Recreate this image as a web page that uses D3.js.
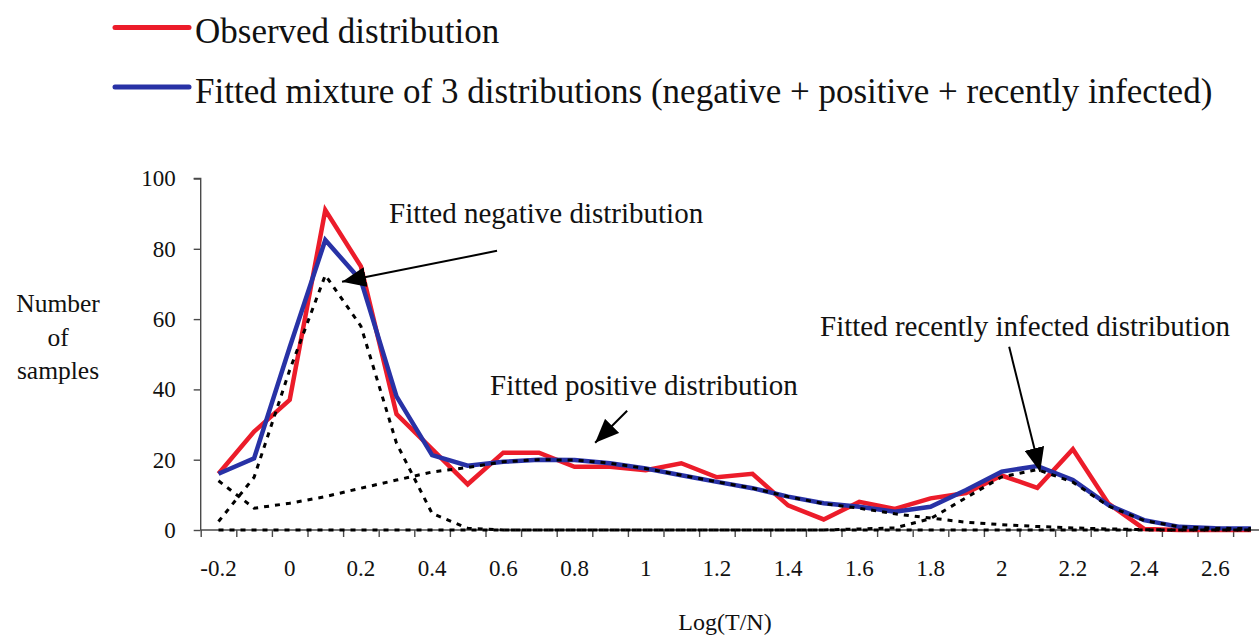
<!DOCTYPE html>
<html>
<head>
<meta charset="utf-8">
<script src="https://cdn.jsdelivr.net/npm/d3@7"></script>
<style>
  html, body { margin: 0; padding: 0; background: #fff; }
  svg { display: block; }
  text { font-family: "Liberation Serif", "Times New Roman", serif; fill: #111; }
</style>
</head>
<body>
<svg id="chart" width="1259" height="638"></svg>
<script>
// Log(T/N) classes, one every 0.1
const categories = ["-0.2","-0.1","0","0.1","0.2","0.3","0.4","0.5","0.6","0.7",
                    "0.8","0.9","1","1.1","1.2","1.3","1.4","1.5","1.6","1.7",
                    "1.8","1.9","2","2.1","2.2","2.3","2.4","2.5","2.6","2.7"];
// Labelled classes on the x axis
const xTickLabels = ["-0.2","0","0.2","0.4","0.6","0.8","1","1.2","1.4","1.6","1.8","2","2.2","2.4","2.6"];
const yTicks = [0, 20, 40, 60, 80, 100];

// Number of samples per class
const observed = [16, 28, 37, 91, 75, 33, 23, 13, 22, 22,
                  18, 18, 17, 19, 15, 16, 7, 3, 8, 6,
                  9, 10.5, 15.5, 12, 23, 7.5, 0.3, 0, 0, 0];
const fittedMixture = [16, 20.4, 52, 82.5, 71, 38, 21.3, 18.3, 19.4, 20,
                       19.9, 19, 17.5, 15.6, 13.7, 11.9, 9.5, 7.6, 6.6, 5.2,
                       6.6, 11.4, 16.6, 18.2, 14.2, 7.1, 2.8, 0.9, 0.5, 0.4];
const fittedNegative = [2.4, 15, 45.5, 72.5, 58, 24.7, 4.7, 0.5, 0, 0,
                        0, 0, 0, 0, 0, 0, 0, 0, 0, 0,
                        0, 0, 0, 0, 0, 0, 0, 0, 0, 0];
const fittedPositive = [14, 6.2, 7.6, 9.5, 11.9, 14.2, 16.5, 17.8, 19.4, 20,
                        19.9, 19, 17.5, 15.6, 13.7, 11.9, 9.5, 7.5, 6.2, 4.6,
                        3.4, 2.2, 1.5, 1.0, 0.6, 0.3, 0.1, 0, 0, 0];
const fittedRecent = [0, 0, 0, 0, 0, 0, 0, 0, 0, 0,
                      0, 0, 0, 0, 0, 0, 0, 0, 0.3, 0.6,
                      3.2, 9.2, 15.1, 17.2, 13.6, 6.8, 2.7, 0.9, 0.5, 0.4];

const svg = d3.select("#chart");
svg.append("rect").attr("width", 1259).attr("height", 638).attr("fill", "#fff");

const x0 = 200.7, step = 35.6;
const x = d3.scaleBand().domain(categories).range([x0, x0 + step * categories.length]).padding(0);
const xEdge = d3.scaleLinear().domain([0, categories.length]).range(x.range());
const y = d3.scaleLinear().domain([0, 100]).range([530, 178.5]);
const cx = c => x(c) + x.bandwidth() / 2;

const axisColor = "#4a4a4a";

// y axis
const yAxis = svg.append("g").attr("transform", `translate(${x0},0)`)
  .call(d3.axisLeft(y).tickValues(yTicks).tickSize(7).tickPadding(18).tickFormat(d3.format("d")));
yAxis.selectAll("path, line").attr("stroke", axisColor).attr("stroke-width", 1.4);
yAxis.select(".domain").attr("d", `M-7,${y(100)}H0V${y(0)}`);
yAxis.selectAll("text").attr("font-size", 23).attr("font-family", "Liberation Serif").attr("fill", "#111");

// x axis: tick marks between classes
const xTicks = svg.append("g").attr("transform", `translate(0,${y(0)})`)
  .call(d3.axisBottom(xEdge).tickValues(d3.range(0, categories.length + 1)).tickSize(7).tickFormat(""));
xTicks.selectAll("path, line").attr("stroke", axisColor).attr("stroke-width", 1.4);
xTicks.select(".domain").attr("d", `M${x0},0H${x.range()[1]}`);

// x axis: labels centred on classes
const xLabels = svg.append("g").attr("transform", `translate(0,${y(0)})`)
  .call(d3.axisBottom(x).tickValues(xTickLabels).tickSize(0).tickPadding(30));
xLabels.select(".domain").remove();
xLabels.selectAll("text").attr("font-size", 23).attr("font-family", "Liberation Serif").attr("fill", "#111");

// axis titles
svg.append("text").attr("x", 725).attr("y", 630).attr("text-anchor", "middle")
  .attr("font-size", 24).text("Log(T/N)");
const yTitle = svg.append("text").attr("text-anchor", "middle").attr("font-size", 25.5);
[["Number", 311.5], ["of", 345.5], ["samples", 378.5]].forEach(([t, by]) =>
  yTitle.append("tspan").attr("x", 58).attr("y", by).text(t));

// series
const line = vals => d3.line().x((d, i) => cx(categories[i])).y(d => y(d))(vals);

svg.append("path").attr("d", line(observed)).attr("fill", "none")
  .attr("stroke", "#ec1c2a").attr("stroke-width", 4.5).attr("stroke-linejoin", "miter");
svg.append("path").attr("d", line(fittedMixture)).attr("fill", "none")
  .attr("stroke", "#2832a6").attr("stroke-width", 4.5).attr("stroke-linejoin", "miter");
[fittedNegative, fittedPositive, fittedRecent].forEach(vals =>
  svg.append("path").attr("d", line(vals)).attr("fill", "none")
    .attr("stroke", "#000").attr("stroke-width", 3).attr("stroke-dasharray", "5,6"));

// legend
const legend = [
  { color: "#ec1c2a", label: "Observed distribution", ly: 27.5, ty: 43 },
  { color: "#2832a6", label: "Fitted mixture of 3 distributions (negative + positive + recently infected)", ly: 87, ty: 103 }
];
legend.forEach(l => {
  svg.append("line").attr("x1", 115).attr("x2", 189).attr("y1", l.ly).attr("y2", l.ly)
    .attr("stroke", l.color).attr("stroke-width", 5).attr("stroke-linecap", "round");
  svg.append("text").attr("x", 195).attr("y", l.ty).attr("font-size", 35).text(l.label);
});

// annotations with arrows pointing at each fitted component
svg.append("defs").append("marker")
  .attr("id", "head").attr("viewBox", "0 0 24 20").attr("refX", 24).attr("refY", 10)
  .attr("markerWidth", 24).attr("markerHeight", 20).attr("markerUnits", "userSpaceOnUse")
  .attr("orient", "auto")
  .append("path").attr("d", "M0,0L24,10L0,20Z").attr("fill", "#000");

const tipX = idx => x0 + step * (idx + 0.5);
const notes = [
  { text: "Fitted negative distribution", tx: 389, ty: 223, tip: [3.47, 70.6], tail: [155, -31] },
  { text: "Fitted positive distribution", tx: 490, ty: 395, tip: [10.58, 24.8], tail: [32, -32] },
  { text: "Fitted recently infected distribution", tx: 820, ty: 336, tip: [23.08, 16.6], tail: [-31, -125] }
];
notes.forEach(n => {
  svg.append("text").attr("x", n.tx).attr("y", n.ty).attr("font-size", 29).text(n.text);
  const px = tipX(n.tip[0]), py = y(n.tip[1]);
  svg.append("line").attr("x1", px + n.tail[0]).attr("y1", py + n.tail[1]).attr("x2", px).attr("y2", py)
    .attr("stroke", "#000").attr("stroke-width", 2).attr("marker-end", "url(#head)");
});
</script>
</body>
</html>
